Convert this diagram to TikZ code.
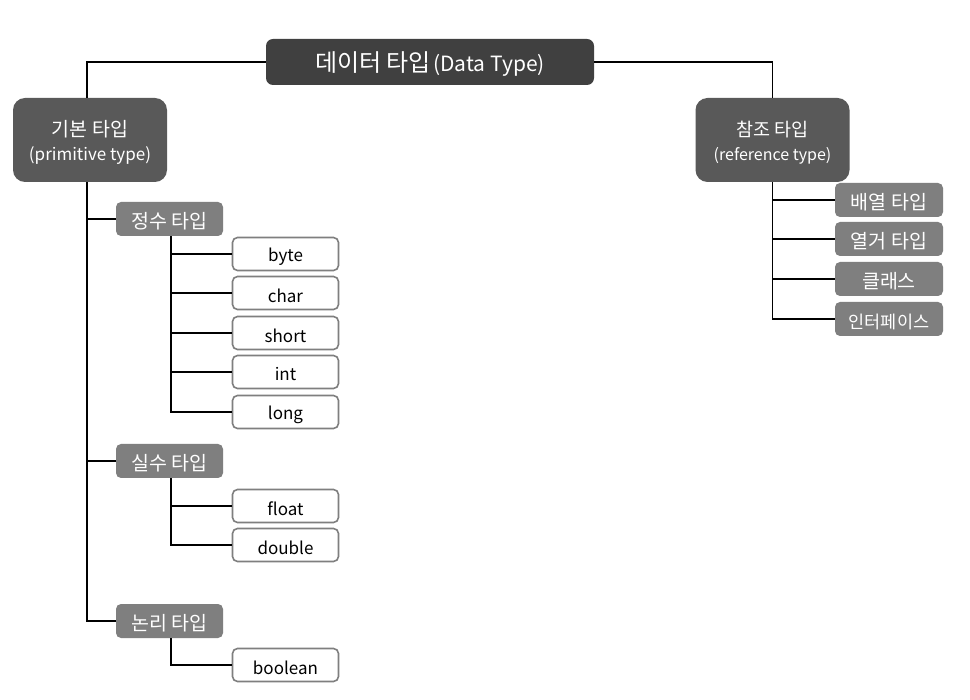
\documentclass[tikz,border=0pt]{standalone}
\usepackage{fontspec}
\setmainfont{Noto Sans CJK KR}
\definecolor{topc}{HTML}{404040}
\definecolor{midc}{HTML}{595959}
\definecolor{subc}{HTML}{7F7F7F}
\newcommand\lowtxt[1]{\raisebox{-2.5pt}[\height][\depth]{#1}}
\newcommand\fsz[1]{\fontsize{#1}{1.25\dimexpr#1pt\relax}\selectfont}
\tikzset{
  topbox/.style={fill=topc, text=white, rounded corners=7pt, minimum width=328pt, minimum height=46pt, inner sep=0pt},
  midbox/.style={fill=midc, text=white, rounded corners=12pt, minimum width=154pt, minimum height=84pt, inner sep=0pt, align=center, font=\fsz{19}},
  subbox/.style={fill=subc, text=white, rounded corners=5pt, minimum width=107pt, minimum height=34pt, inner sep=0pt, font=\fsz{19.5}},
  leafbox/.style={draw=subc, line width=1.6pt, fill=white, text=black, rounded corners=5pt, minimum width=106pt, minimum height=33pt, inner sep=0pt, font=\fsz{17}},
  conn/.style={draw=black, line width=1.2pt}
}
\begin{document}
\begin{tikzpicture}[x=1pt,y=-1pt]
\useasboundingbox (0,0) rectangle (970,700);
\fill[white] (0,0) rectangle (970,700);
% nodes
\node[topbox] (top) at (430,62) {\lowtxt{{\fsz{24}데이터 타입} {\fsz{21}(Data Type)}}};
\node[midbox] (prim) at (90,140) {\lowtxt{\fsz{19.5}기본 타입}\\\lowtxt{\fsz{17}(primitive type)}};
\node[midbox] (ref) at (772.5,140) {\lowtxt{\fsz{18.5}참조 타입}\\\lowtxt{\fsz{16}(reference type)}};
% primitive subgroups
\node[subbox] (integ) at (169.5,219) {\lowtxt{정수 타입}};
\node[subbox] (real) at (169.5,461) {\lowtxt{실수 타입}};
\node[subbox] (logic) at (169.5,621) {\lowtxt{논리 타입}};
% leaves
\node[leafbox] (byte) at (285.5,254) {\lowtxt{byte}};
\node[leafbox] (char) at (285.5,293) {\lowtxt{char}};
\node[leafbox] (short) at (285.5,333) {\lowtxt{short}};
\node[leafbox] (int) at (285.5,372) {\lowtxt{int}};
\node[leafbox] (long) at (285.5,412) {\lowtxt{long}};
\node[leafbox] (float) at (285.5,506) {\lowtxt{float}};
\node[leafbox] (double) at (285.5,545) {\lowtxt{double}};
\node[leafbox] (bool) at (285.5,665) {\lowtxt{boolean}};
% reference subgroups
\node[subbox, minimum width=108pt] (arr) at (889,200) {\lowtxt{배열 타입}};
\node[subbox, minimum width=108pt] (enum) at (889,239) {\lowtxt{열거 타입}};
\node[subbox, minimum width=108pt] (cls) at (889,279) {\lowtxt{클래스}};
\node[subbox, minimum width=108pt, font=\fsz{17.5}] (intf) at (889,319) {\lowtxt{인터페이스}};
% connectors
\draw[conn] (top.west) -| ([xshift=-3pt]prim.north);
\draw[conn] (top.east) -| (ref.north);
\draw[conn] ([xshift=-3pt]prim.south) |- (integ.west);
\draw[conn] ([xshift=-3pt]prim.south) |- (real.west);
\draw[conn] ([xshift=-3pt]prim.south) |- (logic.west);
\draw[conn] ([xshift=1.5pt]integ.south) |- (byte.west);
\draw[conn] ([xshift=1.5pt]integ.south) |- (char.west);
\draw[conn] ([xshift=1.5pt]integ.south) |- (short.west);
\draw[conn] ([xshift=1.5pt]integ.south) |- (int.west);
\draw[conn] ([xshift=1.5pt]integ.south) |- (long.west);
\draw[conn] ([xshift=1.5pt]real.south) |- (float.west);
\draw[conn] ([xshift=1.5pt]real.south) |- (double.west);
\draw[conn] ([xshift=1.5pt]logic.south) |- (bool.west);
\draw[conn] (ref.south) |- (arr.west);
\draw[conn] (ref.south) |- (enum.west);
\draw[conn] (ref.south) |- (cls.west);
\draw[conn] (ref.south) |- (intf.west);
\end{tikzpicture}
\end{document}
